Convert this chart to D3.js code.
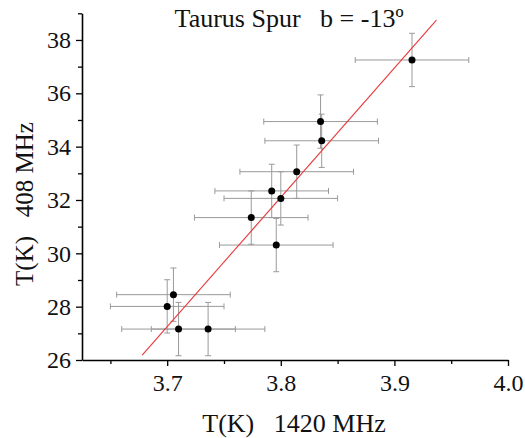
<!DOCTYPE html>
<html>
<head>
<meta charset="utf-8">
<script src="https://cdn.jsdelivr.net/npm/d3@7"></script>
<style>
  body { margin: 0; background: #fff; }
</style>
</head>
<body>
<svg id="chart" width="525" height="438"></svg>
<script>
// values
let t1420 = [3.9155, 3.835, 3.836, 3.814, 3.792, 3.800, 3.774, 3.796, 3.7055, 3.700, 3.710, 3.736];
let t408  = [37.25, 34.94, 34.22, 33.06, 32.34, 32.06, 31.34, 30.31, 28.45, 28.01, 27.16, 27.16];
let errX  = [0.05, 0.05, 0.05, 0.05, 0.05, 0.05, 0.05, 0.05, 0.05, 0.05, 0.05, 0.05];
let errY  = [1, 1, 1, 1, 1, 1, 1, 1, 1, 1, 1, 1];

let fitSlope = 48.5, fitIntercept = -152.2;
let fitRange = [3.678, 3.937];

let xMajor = [3.7, 3.8, 3.9, 4.0];
let xMinor = [3.65, 3.75, 3.85, 3.95];
let yMajor = [26, 28, 30, 32, 34, 36, 38];
let yMinor = [27, 29, 31, 33, 35, 37, 39];

let title = "Taurus Spur\u00a0\u00a0\u00a0b = -13\u00ba";
let xLabel = "T(K)\u00a0\u00a0\u00a01420 MHz";
let yLabel = "T(K)\u00a0\u00a0\u00a0408 MHz";

let serif = "'Liberation Serif', 'Times New Roman', Times, serif";

let data = t1420.map((v, i) => ({x: v, y: t408[i], ex: errX[i], ey: errY[i]}));

let svg = d3.select("#chart");

let x = d3.scaleLinear().domain([3.625, 4.0]).range([82, 508]);
let y = d3.scaleLinear().domain([26, 39]).range([360, 13.3]);

// error bars
let eb = svg.append("g")
    .attr("stroke", "#9a9a9a")
    .attr("stroke-width", 1)
    .attr("fill", "none");

let cap = 3;
data.forEach(d => {
    let cx = x(d.x), cy = y(d.y);
    let x0 = x(d.x - d.ex), x1 = x(d.x + d.ex);
    let y0 = y(d.y - d.ey), y1 = y(d.y + d.ey);
    eb.append("path")
      .attr("d", `M${x0},${cy}H${x1}M${x0},${cy - cap}V${cy + cap}M${x1},${cy - cap}V${cy + cap}`);
    eb.append("path")
      .attr("d", `M${cx},${y0}V${y1}M${cx - cap},${y0}H${cx + cap}M${cx - cap},${y1}H${cx + cap}`);
});

// fit line
svg.append("line")
    .attr("x1", x(fitRange[0]))
    .attr("y1", y(fitSlope * fitRange[0] + fitIntercept))
    .attr("x2", x(fitRange[1]))
    .attr("y2", y(fitSlope * fitRange[1] + fitIntercept))
    .attr("stroke", "#e8383a")
    .attr("stroke-width", 1.1);

// points
svg.append("g").selectAll("circle")
    .data(data)
    .enter()
    .append("circle")
    .attr("cx", d => x(d.x))
    .attr("cy", d => y(d.y))
    .attr("r", 3.5)
    .attr("fill", "#000");

// axes
let xAxis = svg.append("g").attr("transform", "translate(0,360)");
xAxis.call(d3.axisBottom(x).tickValues(xMajor).tickSize(6).tickSizeOuter(0).tickFormat(d3.format(".1f")));
xAxis.append("g").call(d3.axisBottom(x).tickValues(xMinor).tickSize(4).tickSizeOuter(0).tickFormat(""))
    .select(".domain").remove();

let yAxis = svg.append("g").attr("transform", "translate(82,0)");
yAxis.call(d3.axisLeft(y).tickValues(yMajor).tickSize(6).tickSizeOuter(0).tickFormat(d3.format("d")));
yAxis.append("g").call(d3.axisLeft(y).tickValues(yMinor).tickSize(4).tickSizeOuter(0).tickFormat(""))
    .select(".domain").remove();

svg.selectAll(".domain").attr("stroke", "#000").attr("stroke-width", 1.6);
svg.selectAll(".tick line").attr("stroke", "#000").attr("stroke-width", 1.3);

svg.selectAll("g").attr("font-family", null).attr("font-size", null);

xAxis.selectAll(".tick text")
    .style("font-family", serif)
    .style("font-size", "24px")
    .attr("fill", "#111")
    .attr("y", 14);

yAxis.selectAll(".tick text")
    .style("font-family", serif)
    .style("font-size", "24px")
    .attr("fill", "#111")
    .attr("x", -11);

// labels
function label(tx, ty, rot, size, str) {
    svg.append("text")
        .attr("transform", `translate(${tx},${ty}) rotate(${rot})`)
        .attr("text-anchor", "middle")
        .style("font-family", serif)
        .style("font-size", size + "px")
        .attr("fill", "#111")
        .text(str);
}
label(289, 27, 0, 26, title);
label(294, 432, 0, 26, xLabel);
label(33, 204, -90, 25, yLabel);
</script>
</body>
</html>
